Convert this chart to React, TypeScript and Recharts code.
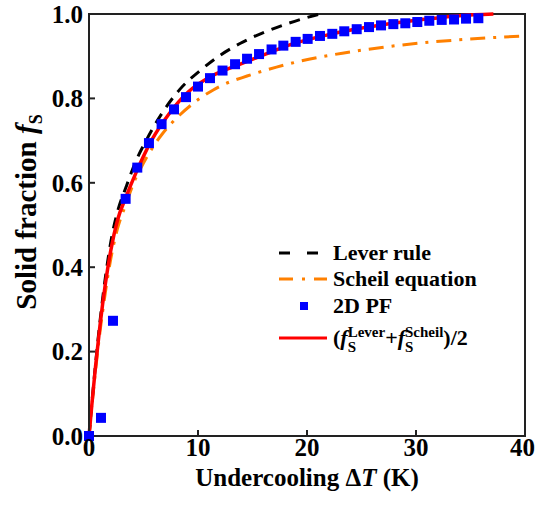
import React from 'react';
import {
  ComposedChart, Line, Scatter, XAxis, YAxis, Legend, ReferenceArea, Label,
} from 'recharts';

const FONT = '"Liberation Serif", "Times New Roman", Times, serif';

// Lever rule (black dashed)
const leverX = [0, 0.3, 0.6, 1.0, 1.5, 2.0, 2.6, 3.4, 4.2, 5.3, 6.7, 8.35, 10.2, 11.85, 13.85, 16.0, 18.3, 20.6, 21.2];
const leverY = [0, 0.088, 0.17, 0.27, 0.375, 0.46, 0.53, 0.59, 0.645, 0.703, 0.765, 0.822, 0.866, 0.899, 0.93, 0.956, 0.978, 0.996, 1.0];

// Scheil equation (orange dash-dot)
const scheilX = [0, 0.3, 0.6, 1.0, 1.5, 2.0, 2.6, 3.4, 4.1, 4.7, 5.9, 6.7, 8.3, 9.4, 11.4, 12.2, 14.5, 17.2, 19.0, 22.3, 25.5, 28.5, 31.6, 34.6, 37.7, 40];
const scheilY = [0, 0.08, 0.155, 0.245, 0.34, 0.42, 0.49, 0.55, 0.6, 0.632, 0.686, 0.715, 0.76, 0.785, 0.82, 0.831, 0.853, 0.874, 0.886, 0.903, 0.916, 0.926, 0.934, 0.94, 0.945, 0.948];

// average of lever and Scheil (red)
const avgX = [0, 0.3, 0.6, 1.0, 1.5, 2.0, 2.6, 3.4, 4.3, 5.75, 7.3, 9.1, 11.25, 13.55, 15.7, 17.5, 18.7, 21.8, 24.9, 27.9, 31.0, 34.0, 37.1];
const avgY = [0, 0.085, 0.165, 0.26, 0.36, 0.44, 0.51, 0.567, 0.623, 0.701, 0.762, 0.815, 0.853, 0.878, 0.9, 0.918, 0.929, 0.95, 0.966, 0.978, 0.988, 0.996, 1.0];

// 2D phase-field results (blue squares)
const pfX = [0, 1.1, 2.2, 3.36, 4.43, 5.5, 6.66, 7.8, 8.9, 10.0, 11.1, 12.25, 13.4, 14.5, 15.6, 16.75,
  17.83, 18.96, 20.06, 21.19, 22.32, 23.42, 24.56, 25.69, 26.79, 27.92, 29.02, 30.12, 31.22, 32.36, 33.49, 34.59, 35.72];
const pfY = [0, 0.043, 0.273, 0.562, 0.636, 0.694, 0.739, 0.774, 0.803, 0.828, 0.848, 0.866, 0.881, 0.894, 0.905, 0.916,
  0.925, 0.934, 0.941, 0.948, 0.953, 0.959, 0.964, 0.969, 0.973, 0.976, 0.978, 0.981, 0.984, 0.986, 0.987, 0.989, 0.99];

const xTicks = [0, 10, 20, 30, 40];
const yTicks = [0, 0.2, 0.4, 0.6, 0.8, 1.0];

const zip = (xs: number[], ys: number[]) => xs.map((x, i) => ({ x, y: ys[i] }));

const leverData = zip(leverX, leverY);
const scheilData = zip(scheilX, scheilY);
const avgData = zip(avgX, avgY);
const pfData = zip(pfX, pfY);

const AXIS = '#222';

const Square = (props: any) => {
  const { cx, cy } = props;
  if (cx == null || cy == null) return null;
  return <rect x={cx - 5} y={cy - 5} width={10} height={10} fill="#0000ff" />;
};

const row = (h: number) => ({ display: 'flex', alignItems: 'center', height: h });

const Stack = ({ top }: { top: string }) => (
  <span style={{ display: 'inline-flex', flexDirection: 'column', fontSize: 15, lineHeight: '15px', position: 'relative', top: 2 }}>
    <span>{top}</span>
    <span>S</span>
  </span>
);

const renderLegend = () => (
  <div style={{ fontFamily: FONT, fontWeight: 'bold', fontSize: 22, lineHeight: 1, color: '#000' }}>
    <div style={row(26)}>
      <svg width={50} height={20}><line x1={1} y1={10} x2={49} y2={10} stroke="#000" strokeWidth={3} strokeDasharray="11 17" /></svg>
      <span style={{ marginLeft: 5 }}>Lever rule</span>
    </div>
    <div style={row(26)}>
      <svg width={50} height={20}><line x1={1} y1={10} x2={49} y2={10} stroke="#ff8000" strokeWidth={3} strokeDasharray="14 9 3 9" /></svg>
      <span style={{ marginLeft: 5 }}>Scheil equation</span>
    </div>
    <div style={row(27)}>
      <svg width={50} height={20}><rect x={22} y={6} width={8} height={8} fill="#0000ff" /></svg>
      <span style={{ marginLeft: 5 }}>2D PF</span>
    </div>
    <div style={row(38)}>
      <svg width={50} height={20}><line x1={1} y1={10} x2={49} y2={10} stroke="#ff0000" strokeWidth={3} /></svg>
      <span style={{ marginLeft: 5, display: 'flex', alignItems: 'center' }}>
        <span>(</span><span style={{ fontStyle: 'italic' }}>f</span>
        <Stack top="Lever" />
        <span>+</span><span style={{ fontStyle: 'italic' }}>f</span>
        <Stack top="Scheil" />
        <span>)/2</span>
      </span>
    </div>
  </div>
);

const XTitle = (props: any) => {
  const { viewBox } = props;
  const cx = viewBox.x + viewBox.width / 2;
  return (
    <text x={cx} y={486} textAnchor="middle" fontFamily={FONT} fontWeight="bold" fontSize={25} fill="#000">
      Undercooling <tspan>Δ</tspan><tspan fontStyle="italic">T</tspan> (K)
    </text>
  );
};

const YTitle = (props: any) => {
  const { viewBox } = props;
  const cx = 36;
  const cy = viewBox.y + viewBox.height / 2 - 13;
  return (
    <text x={cx} y={cy} textAnchor="middle" transform={`rotate(-90 ${cx} ${cy})`} fontFamily={FONT} fontWeight="bold" fontSize={29} fill="#000">
      Solid fraction <tspan fontStyle="italic">f</tspan><tspan fontSize={18} dy={6}>S</tspan>
    </text>
  );
};

export default function App() {
  const tickStyle = { fontFamily: FONT, fontWeight: 'bold', fontSize: 25, fill: '#000' };
  return (
    <div style={{ position: 'absolute', left: 0, top: 0, width: 535, height: 511, background: '#fff' }}>
      <ComposedChart width={535} height={511} margin={{ top: 14, right: 10, left: 0, bottom: 0 }}>
        <XAxis
          type="number"
          dataKey="x"
          domain={[0, 40]}
          ticks={xTicks}
          height={75}
          tick={tickStyle}
          tickSize={-6}
          tickMargin={8}
          stroke={AXIS}
          strokeWidth={2}
          allowDecimals={false}
        >
          <Label content={<XTitle />} />
        </XAxis>
        <YAxis
          type="number"
          dataKey="y"
          domain={[0, 1]}
          ticks={yTicks}
          width={89}
          tick={tickStyle}
          tickSize={-6}
          tickMargin={12}
          tickFormatter={(v: number) => v.toFixed(1)}
          stroke={AXIS}
          strokeWidth={2}
        >
          <Label content={<YTitle />} />
        </YAxis>
        <ReferenceArea x1={0} x2={40} y1={0} y2={1} fill="none" stroke={AXIS} strokeWidth={2} />
        <Line data={scheilData} dataKey="y" type="monotone" stroke="#ff8000" strokeWidth={3} strokeDasharray="15 8 3 8" dot={false} isAnimationActive={false} />
        <Line data={leverData} dataKey="y" type="monotone" stroke="#000" strokeWidth={3} strokeDasharray="11 8" dot={false} isAnimationActive={false} />
        <Scatter data={pfData} dataKey="y" fill="#0000ff" shape={<Square />} isAnimationActive={false} />
        <Line data={avgData} dataKey="y" type="monotone" stroke="#ff0000" strokeWidth={3.5} dot={false} isAnimationActive={false} />
        <Legend
          layout="vertical"
          align="center"
          verticalAlign="middle"
          content={renderLegend}
          wrapperStyle={{ left: 278, top: 240, width: 'auto', height: 'auto' }}
        />
      </ComposedChart>
    </div>
  );
}
